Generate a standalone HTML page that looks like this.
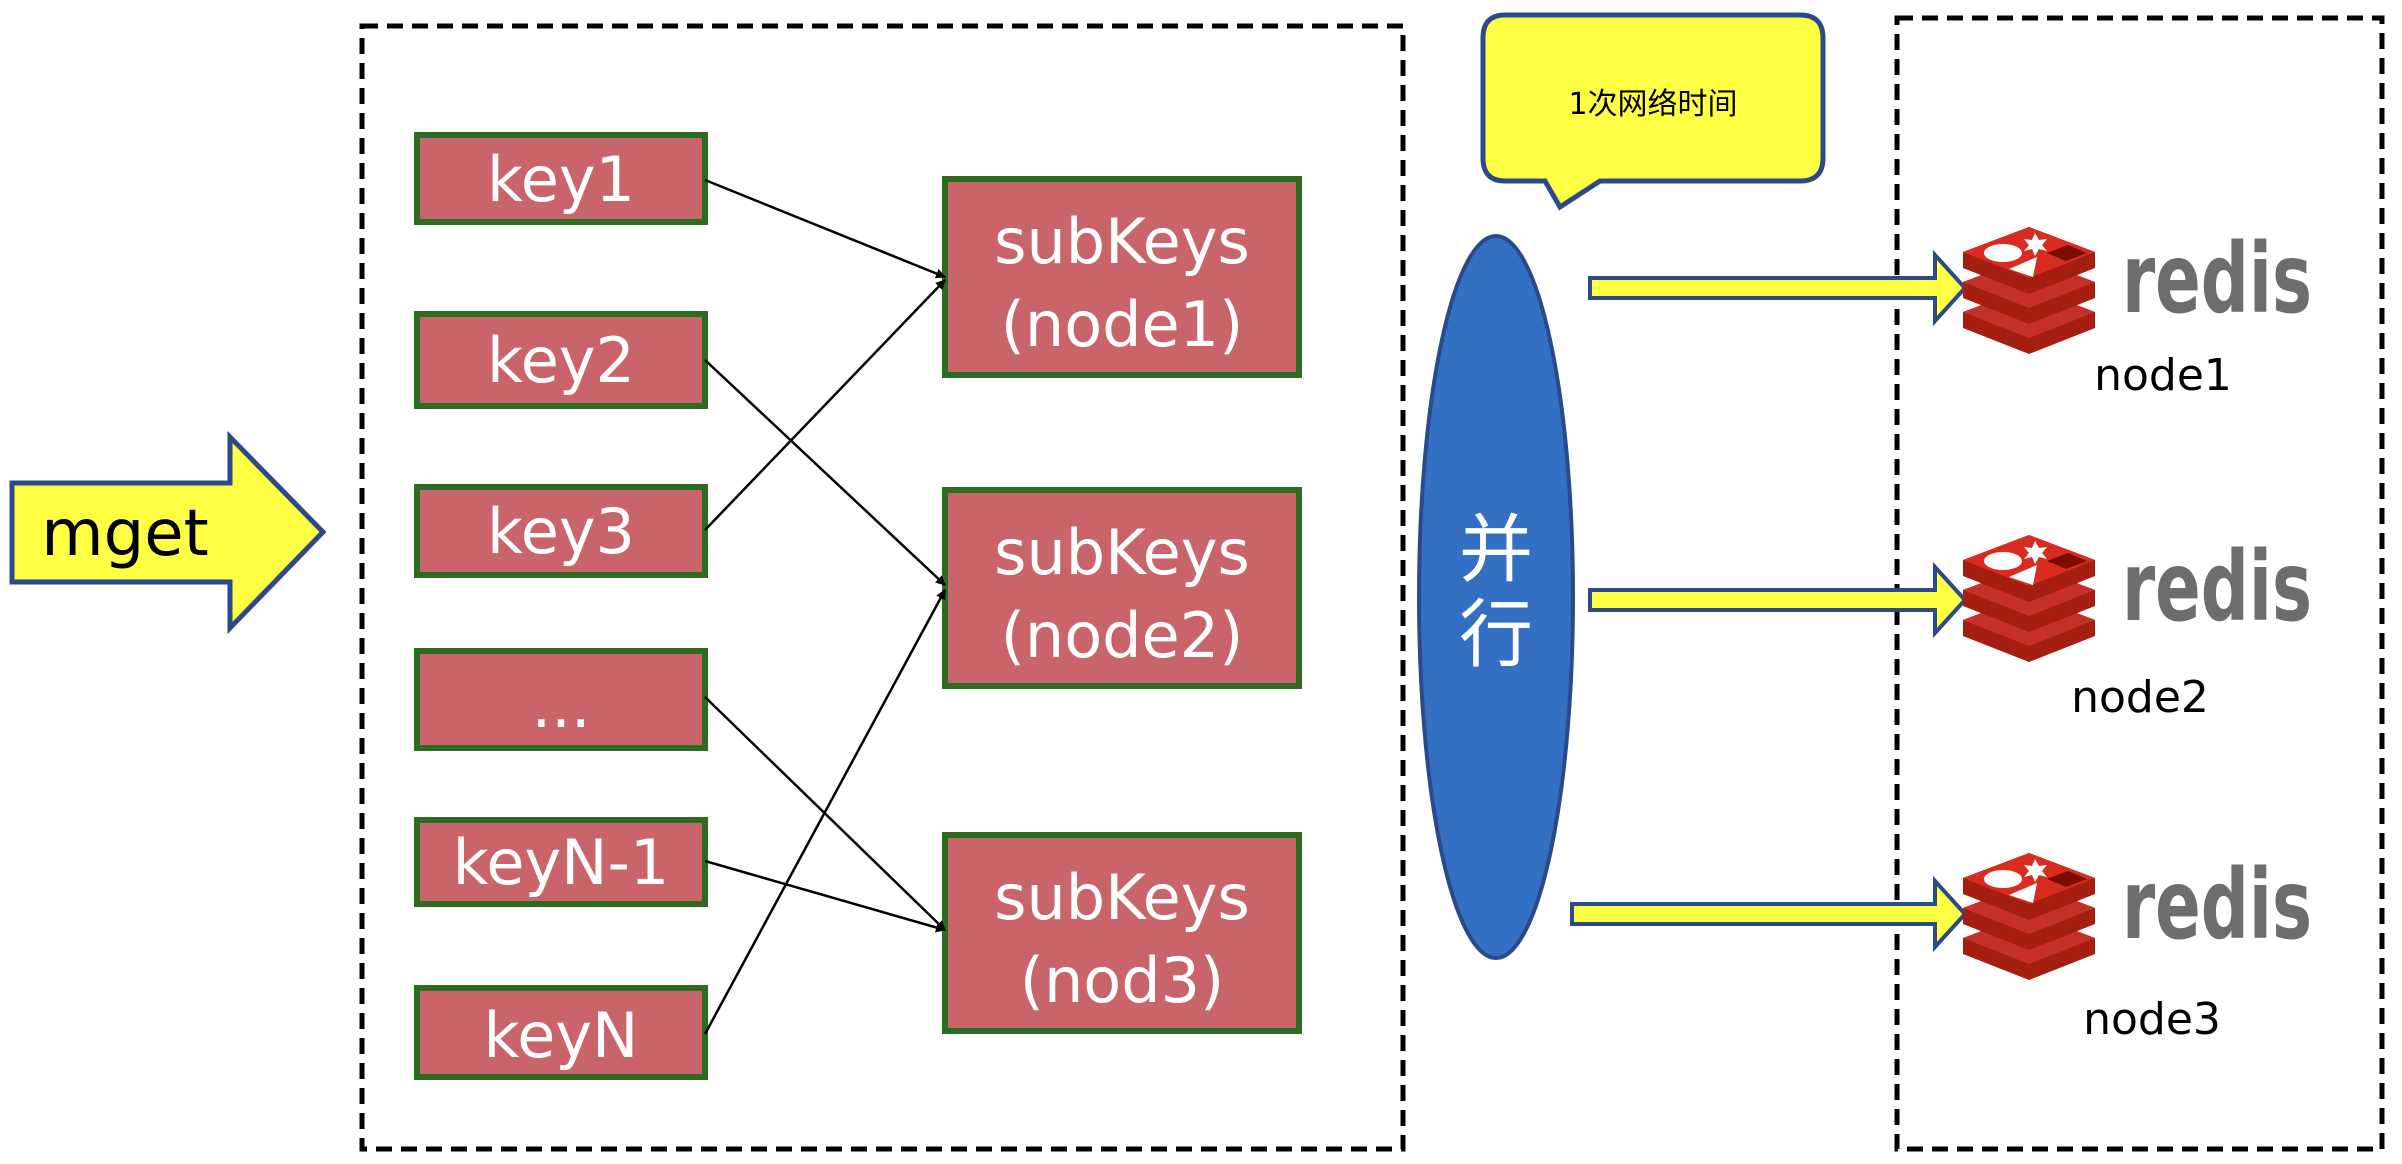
<!DOCTYPE html>
<html><head><meta charset="utf-8"><style>
html,body{margin:0;padding:0;background:#fff;}
svg{display:block;}
text{font-family:"DejaVu Sans","Liberation Sans","Noto Sans CJK SC",sans-serif;}
</style></head><body>
<svg width="2402" height="1164" viewBox="0 0 2402 1164" xmlns="http://www.w3.org/2000/svg">
<defs>
<marker id="ah" markerWidth="10" markerHeight="10" refX="9" refY="5" orient="auto" markerUnits="userSpaceOnUse" viewBox="0 0 10 10">
<path d="M0,0 L10,5 L0,10 z" fill="#000"/>
</marker>
<g id="logo">
    <polygon points="0,85 66,60 132,85 132,101 66,127 0,101" fill="#a41e11"/>
    <polygon points="0,85 66,60 132,85 66,111" fill="#c6302b"/>
    <polygon points="0,55 66,30 132,55 132,71 66,97 0,71" fill="#a41e11"/>
    <polygon points="0,55 66,30 132,55 66,81" fill="#c6302b"/>
    <polygon points="0,25 66,0 132,25 132,41 66,67 0,41" fill="#a41e11"/>
    <polygon points="0,25 66,0 132,25 66,51" fill="#d82c20"/>
    <ellipse cx="40" cy="26" rx="19" ry="9" fill="#fff"/>
    <polygon points="72,6 76,13 84,12 79,18 84,24 76,22 72,29 69,22 61,24 66,18 61,12 69,13" fill="#fff"/>
    <polygon points="46,42 74,30 70,50" fill="#fff"/>
    <polygon points="84,26 105,18 124,26 103,34" fill="#7a0c00"/>
</g>
</defs>

<rect x="362" y="26" width="1041" height="1123" fill="none" stroke="#000" stroke-width="5" stroke-dasharray="16,9"/>
<rect x="1897" y="18" width="485" height="1131" fill="none" stroke="#000" stroke-width="5" stroke-dasharray="16,9"/>

<polygon points="12,483 230,483 230,437 323,532 230,628 230,582 12,582" fill="#ffff44" stroke="#2a4a8a" stroke-width="5"/>
<text x="125" y="555" font-size="64" text-anchor="middle" fill="#000">mget</text>

<g fill="#c8646a" stroke="#2e6b22" stroke-width="6">
<rect x="417" y="135" width="288" height="87"/>
<rect x="417" y="314" width="288" height="92"/>
<rect x="417" y="487" width="288" height="88"/>
<rect x="417" y="651" width="288" height="97"/>
<rect x="417" y="820" width="288" height="84"/>
<rect x="417" y="988" width="288" height="89"/>
<rect x="945" y="179" width="354" height="196"/>
<rect x="945" y="490" width="354" height="196"/>
<rect x="945" y="835" width="354" height="196"/>
</g>
<g fill="#fff" font-size="62" text-anchor="middle">
<text x="561" y="201">key1</text>
<text x="561" y="382">key2</text>
<text x="561" y="553">key3</text>
<text x="561" y="727">...</text>
<text x="561" y="884">keyN-1</text>
<text x="561" y="1057">keyN</text>
<text x="1122" y="263">subKeys</text>
<text x="1122" y="346">(node1)</text>
<text x="1122" y="574">subKeys</text>
<text x="1122" y="657">(node2)</text>
<text x="1122" y="919">subKeys</text>
<text x="1122" y="1002">(nod3)</text>
</g>

<g stroke="#000" stroke-width="2.5" marker-end="url(#ah)">
<line x1="705" y1="180" x2="945" y2="277"/>
<line x1="705" y1="360" x2="945" y2="585"/>
<line x1="705" y1="530" x2="945" y2="280"/>
<line x1="705" y1="697" x2="945" y2="930"/>
<line x1="705" y1="861" x2="945" y2="930"/>
<line x1="705" y1="1034" x2="945" y2="590"/>
</g>

<path d="M1505,15 H1800 Q1823,15 1823,38 V158 Q1823,181 1800,181 H1600 L1560,207 L1545,181 H1505 Q1483,181 1483,158 V38 Q1483,15 1505,15 Z" fill="#ffff44" stroke="#2a4a8a" stroke-width="5"/>
<text x="1653" y="114" font-size="30" text-anchor="middle" fill="#000">1次网络时间</text>

<ellipse cx="1496" cy="597" rx="77" ry="361" fill="#3370c4" stroke="#2a4a8a" stroke-width="4"/>
<text x="1496" y="575" font-size="74" fill="#fff" text-anchor="middle" font-family="Noto Sans CJK SC,sans-serif">并</text>
<text x="1496" y="660" font-size="74" fill="#fff" text-anchor="middle" font-family="Noto Sans CJK SC,sans-serif">行</text>

<g fill="#ffff44" stroke="#2a4a8a" stroke-width="4">
<polygon points="1590,278 1935,278 1935,255 1965,288 1935,321 1935,298 1590,298"/>
<polygon points="1590,590 1935,590 1935,567 1965,600 1935,633 1935,610 1590,610"/>
<polygon points="1572,904 1935,904 1935,881 1965,914 1935,947 1935,924 1572,924"/>
</g>

<use href="#logo" x="1963" y="227"/>
<use href="#logo" x="1963" y="535"/>
<use href="#logo" x="1963" y="853"/>
<g font-size="96" fill="#6d6d6d" font-weight="bold" font-family="Liberation Sans,sans-serif">
<text x="2122" y="312" textLength="190" lengthAdjust="spacingAndGlyphs">redis</text>
<text x="2122" y="620" textLength="190" lengthAdjust="spacingAndGlyphs">redis</text>
<text x="2122" y="938" textLength="190" lengthAdjust="spacingAndGlyphs">redis</text>
</g>
<g font-size="44" fill="#000" text-anchor="middle">
<text x="2163" y="390">node1</text>
<text x="2140" y="712">node2</text>
<text x="2152" y="1034">node3</text>
</g>
</svg>
</body></html>
